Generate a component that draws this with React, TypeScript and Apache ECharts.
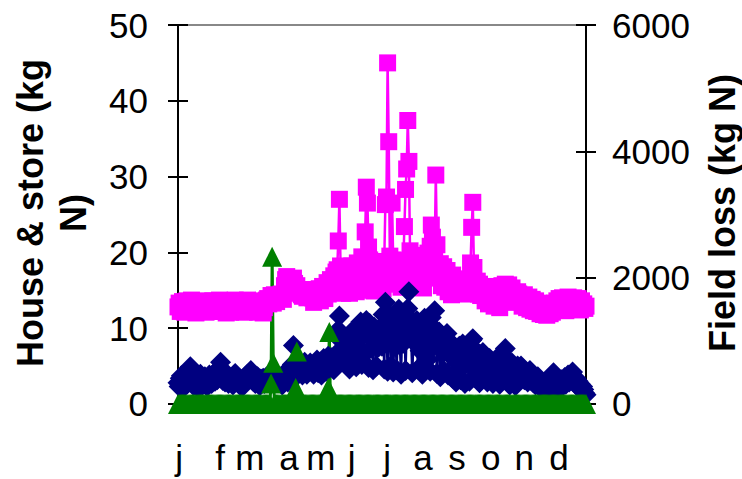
import React, { useEffect, useRef } from "react";
import * as echarts from "echarts";

// Month tick labels and where they sit (day of year)
const monthLabels = ["j", "f", "m", "a", "m", "j", "j", "a", "s", "o", "n", "d"];
const monthLabelDays = [2, 38.5, 65, 100, 128.5, 156, 187.5, 219.5, 250, 280, 310, 341];

const leftTicks = [0, 10, 20, 30, 40, 50];
const rightTicks = [0, 2000, 4000, 6000];

// House & store series 1 (magenta squares), kg N, daily
const magJan = [12.8,13.3,12.2,12.9,13.5,12.5,12.1,13.0,13.6,12.7,12.3,13.2,13.7,12.9,12.4,13.1,12.0,12.8,13.5,13.0,12.3,12.9,13.6,13.1,12.5,12.1,13.0,13.4,12.7,12.2,13.1];
const magFeb = [13.6,13.2,12.7,12.2,13.0,13.5,13.7,13.1,12.4,12.8,13.4,12.2,12.0,12.9,13.3,12.5,12.1,12.8,13.2,13.6,13.7,13.2,12.6,12.2,13.0,13.4,12.8,12.4];
const magMar = [12.1,12.9,13.3,13.7,13.4,12.9,12.4,12.2,13.1,13.6,13.3,12.6,12.1,12.9,13.3,13.0,12.3,12.0,12.7,13.4,13.7,13.9,13.2,13.8,14.3,13.7,13.3,14.4,13.9,13.5,14.1];
const magApr = [14.3,13.9,14.5,14.1,13.8,15.6,16.4,16.8,16.2,15.8,16.5,15.4,16.1,16.6,15.9,15.2,15.6,15.0,14.6,14.9,14.4,14.2,14.8,15.1,14.5,14.0,14.3,14.7,14.9,14.6];
const magMay = [14.0,13.4,14.6,15.0,13.8,14.3,15.2,13.6,14.8,15.5,14.1,13.9,15.3,16.0,14.5,15.1,16.4,14.7,15.8,16.9,15.2,17.4,17.7,21.5,27.0,18.2,16.0,14.6,17.1,15.5,16.6];
const magJun = [15.4,16.8,14.6,17.3,18.2,15.1,16.5,17.9,14.8,18.6,16.2,15.0,17.4,19.4,17.7,16.1,22.7,28.6,26.5,20.7,19.0,15.6,17.2,18.4,14.9,16.7,18.0,15.5,17.6,16.3];
const magJul = [16.4,18.0,15.2,18.8,26.3,27.3,45.0,34.6,19.5,17.2,26.5,19.0,15.8,18.4,17.1,16.0,17.8,18.6,15.4,16.8,18.9,23.4,28.3,31.0,37.4,32.0,20.2,16.1,17.4,18.7,15.9];
const magAug = [18.3,15.6,18.9,19.6,16.2,17.4,18.8,15.3,18.0,17.5,16.6,19.9,18.4,20.8,23.6,22.0,19.2,19.9,30.2,21.0,16.7,17.9,18.5,15.6,17.2,18.1,15.4,16.9,17.6,14.8,16.6];
const magSep = [16.2,14.4,17.0,15.6,14.9,16.3,15.2,16.1,14.7,16.4,15.1,16.2,14.5,16.5,15.0,14.6,16.3,15.1,18.6,23.3,26.6,18.0,15.4,14.9,16.2,14.5,15.8,14.3,15.2,14.4];
const magOct = [15.2,13.6,14.8,15.5,13.2,14.1,15.0,13.8,14.6,12.9,14.3,15.1,13.4,14.0,12.7,14.5,15.6,14.9,13.6,15.8,14.4,13.5,15.7,14.2,13.8,15.3,14.1,13.4,14.6,13.9,14.8];
const magNov = [14.5,13.6,14.2,12.9,13.8,14.4,13.1,12.7,13.9,14.1,12.5,13.4,13.8,12.3,13.0,13.6,12.2,12.8,13.3,11.9,12.6,13.1,11.8,12.4,12.9,11.7,12.2,12.8,11.9,12.5];
const magDec = [12.1,12.9,13.3,12.4,13.6,12.8,13.9,12.5,13.2,14.0,12.7,13.5,12.3,13.8,14.1,12.9,13.4,12.6,13.7,14.0,12.8,13.3,12.5,13.9,13.1,12.4,13.6,12.8,13.2,12.6,12.9];

// House & store series 2 (navy diamonds), kg N, daily
const navJan = [2.8,2.3,3.4,3.7,2.9,2.2,3.1,3.6,2.6,3.9,4.3,4.9,4.0,3.0,2.4,3.3,3.8,2.8,2.1,3.2,3.9,3.5,2.5,3.0,3.6,2.9,2.3,3.4,3.8,3.1,2.7];
const navFeb = [3.5,4.0,3.0,4.3,3.2,3.7,4.6,5.5,4.3,3.1,3.6,2.9,3.5,3.9,2.7,3.4,3.3,3.0,2.5,3.8,4.0,3.6,2.9,3.3,2.6,3.1,2.2,2.8];
const navMar = [2.9,3.6,3.1,3.9,3.4,3.8,4.4,3.7,3.0,3.5,2.7,3.2,3.6,2.9,2.4,3.3,2.8,3.4,2.7,3.2,3.6,3.0,3.5,3.8,3.3,3.7,2.9,3.6,3.2,3.9,3.4];
const navApr = [3.2,2.8,3.6,2.5,3.9,3.1,4.0,3.4,2.9,3.7,4.3,3.5,5.2,7.7,4.8,3.6,4.4,3.9,4.6,5.3,4.1,3.8,4.9,5.5,4.4,3.9,5.0,4.6,5.4,4.8];
const navMay = [4.6,3.9,5.2,4.4,5.8,4.1,4.9,5.5,3.8,4.7,6.0,5.1,4.3,5.6,6.3,4.8,5.4,6.1,5.0,4.5,5.9,6.4,5.3,9.8,11.6,8.4,7.3,6.1,7.0,5.7,6.6];
const navJun = [7.0,8.6,4.6,9.4,7.7,5.5,8.3,9.8,4.9,9.0,6.4,10.3,10.8,5.2,9.6,6.8,10.5,11.0,9.1,4.8,10.6,7.3,9.7,4.5,10.1,8.4,5.0,8.8,7.5,9.8];
const navJul = [10.0,7.6,11.8,4.6,13.4,10.9,4.3,9.5,11.7,5.0,10.3,4.2,8.7,11.4,4.5,9.1,12.5,7.7,3.9,10.4,8.0,12.0,4.4,9.8,12.6,14.8,11.1,8.9,4.1,8.2,10.5];
const navAug = [8.4,11.0,4.6,9.7,7.0,10.3,3.9,8.6,11.3,4.8,9.3,5.9,10.0,4.3,11.4,7.4,8.8,12.3,9.8,4.0,8.2,9.5,3.6,7.7,9.0,4.4,8.5,7.0,9.3,3.8,7.9];
const navSep = [6.4,8.0,3.4,7.3,5.8,2.9,6.9,5.2,7.6,3.2,6.1,7.9,5.0,2.7,6.6,5.4,7.2,3.0,6.0,8.4,8.6,6.3,3.5,7.0,4.6,5.9,2.8,6.5,5.3,6.8];
const navOct = [6.3,4.8,5.6,2.9,5.1,6.0,3.4,5.3,2.7,4.9,5.7,3.2,6.1,5.0,2.6,4.7,5.5,6.4,3.3,7.3,5.8,3.0,5.2,2.5,4.5,5.4,2.9,4.8,2.4,4.2,5.0];
const navNov = [4.3,3.5,5.0,3.8,4.6,3.2,4.1,3.6,2.9,3.9,4.4,3.1,3.7,2.8,3.4,2.5,3.0,3.6,2.7,2.2,2.9,2.4,1.9,2.6,2.1,2.5,1.8,2.3,2.0,2.6];
const navDec = [3.4,4.1,2.8,2.2,3.0,2.5,1.9,2.7,3.2,2.4,2.9,3.5,2.6,3.1,3.8,2.9,3.3,3.9,4.2,3.6,2.8,3.4,2.5,3.0,2.1,2.6,1.8,2.3,1.9,1.4,1.2];

// Field loss (green triangles), kg N: zero on all days except these
const fieldLossDays = [84, 85, 86, 106, 107, 135, 136];
const fieldLossValues = [325, 2330, 650, 250, 830, 250, 1140];

const magenta = [...magJan, ...magFeb, ...magMar, ...magApr, ...magMay, ...magJun, ...magJul, ...magAug, ...magSep, ...magOct, ...magNov, ...magDec];
const navy = [...navJan, ...navFeb, ...navMar, ...navApr, ...navMay, ...navJun, ...navJul, ...navAug, ...navSep, ...navOct, ...navNov, ...navDec];
const days = magenta.map((_, i) => i + 1);

const FONT = "'Liberation Sans', Arial, sans-serif";

export default function App() {
  const ref = useRef<HTMLDivElement>(null);
  useEffect(() => {
    if (!ref.current) return;
    const chart = echarts.init(ref.current, null, { renderer: "svg" });
    const fieldLoss = days.map((d) => {
      const k = fieldLossDays.indexOf(d);
      return [d, k >= 0 ? fieldLossValues[k] : 0];
    });
    const tickLine = { color: "#000", width: 2 };
    const labelStyle = { fontSize: 35, color: "#000", fontFamily: FONT };
    chart.setOption({
      animation: false,
      grid: { left: 178, right: 156, top: 25, bottom: 66, containLabel: false },
      xAxis: [
        {
          type: "value",
          min: 1,
          max: 365,
          position: "bottom",
          axisLine: { show: true, onZero: false, lineStyle: { color: "#000", width: 2 } },
          axisTick: { show: false },
          splitLine: { show: false },
          axisLabel: {
            ...labelStyle,
            customValues: monthLabelDays,
            margin: 27,
            formatter: (v: number) => {
              const i = monthLabelDays.indexOf(v);
              return i >= 0 ? monthLabels[i] : "";
            },
          },
        },
        {
          type: "value",
          min: 1,
          max: 365,
          position: "top",
          axisLine: { show: true, onZero: false, lineStyle: { color: "#888", width: 2 } },
          axisTick: { show: false },
          axisLabel: { show: false },
          splitLine: { show: false },
        },
      ],
      yAxis: [
        {
          type: "value",
          min: -1.2,
          max: 50,
          position: "left",
          axisLine: { show: true, onZero: false, lineStyle: { color: "#000", width: 2 } },
          axisTick: { show: true, length: 10, customValues: leftTicks, lineStyle: tickLine },
          axisLabel: { ...labelStyle, customValues: leftTicks, margin: 30, formatter: (v: number) => String(v) },
          splitLine: { show: false },
        },
        {
          type: "value",
          min: -144,
          max: 6000,
          position: "right",
          axisLine: { show: true, onZero: false, lineStyle: { color: "#000", width: 2 } },
          axisTick: { show: true, length: 10, customValues: rightTicks, lineStyle: tickLine },
          axisLabel: { ...labelStyle, customValues: rightTicks, margin: 26, formatter: (v: number) => String(v) },
          splitLine: { show: false },
        },
        {
          type: "value",
          min: -1.2,
          max: 50,
          position: "left",
          axisLine: { show: false },
          axisTick: { show: true, inside: true, length: 10, customValues: leftTicks, lineStyle: tickLine },
          axisLabel: { show: false },
          splitLine: { show: false },
        },
        {
          type: "value",
          min: -144,
          max: 6000,
          position: "right",
          axisLine: { show: false },
          axisTick: { show: true, inside: true, length: 10, customValues: rightTicks, lineStyle: tickLine },
          axisLabel: { show: false },
          splitLine: { show: false },
        },
      ],
      graphic: [
        {
          type: "text",
          x: 30,
          y: 213,
          rotation: Math.PI / 2,
          style: { text: "House & store (kg", font: `bold 36px ${FONT}`, fill: "#000", align: "center", verticalAlign: "middle" },
        },
        {
          type: "text",
          x: 73,
          y: 213,
          rotation: Math.PI / 2,
          style: { text: "N)", font: `bold 36px ${FONT}`, fill: "#000", align: "center", verticalAlign: "middle" },
        },
        {
          type: "text",
          x: 722,
          y: 213,
          rotation: Math.PI / 2,
          style: { text: "Field loss (kg N)", font: `bold 36px ${FONT}`, fill: "#000", align: "center", verticalAlign: "middle" },
        },
      ],
      series: [
        {
          type: "line",
          xAxisIndex: 0,
          yAxisIndex: 0,
          data: days.map((d, i) => [d, magenta[i]]),
          symbol: "rect",
          symbolSize: 17,
          showSymbol: true,
          showAllSymbol: true,
          lineStyle: { color: "#FF00FF", width: 2.5 },
          itemStyle: { color: "#FF00FF" },
          silent: true,
        },
        {
          type: "line",
          xAxisIndex: 0,
          yAxisIndex: 0,
          data: days.map((d, i) => [d, navy[i]]),
          symbol: "diamond",
          symbolSize: 21,
          showSymbol: true,
          showAllSymbol: true,
          lineStyle: { color: "#000080", width: 2.5 },
          itemStyle: { color: "#000080" },
          silent: true,
        },
        {
          type: "line",
          xAxisIndex: 0,
          yAxisIndex: 1,
          data: fieldLoss,
          symbol: "triangle",
          symbolSize: 20,
          showSymbol: true,
          showAllSymbol: true,
          lineStyle: { color: "#008000", width: 3 },
          itemStyle: { color: "#008000" },
          silent: true,
        },
      ],
    });
    return () => chart.dispose();
  }, []);
  return <div ref={ref} style={{ position: "fixed", left: 0, top: 0, width: 742, height: 479, background: "#fff" }} />;
}
